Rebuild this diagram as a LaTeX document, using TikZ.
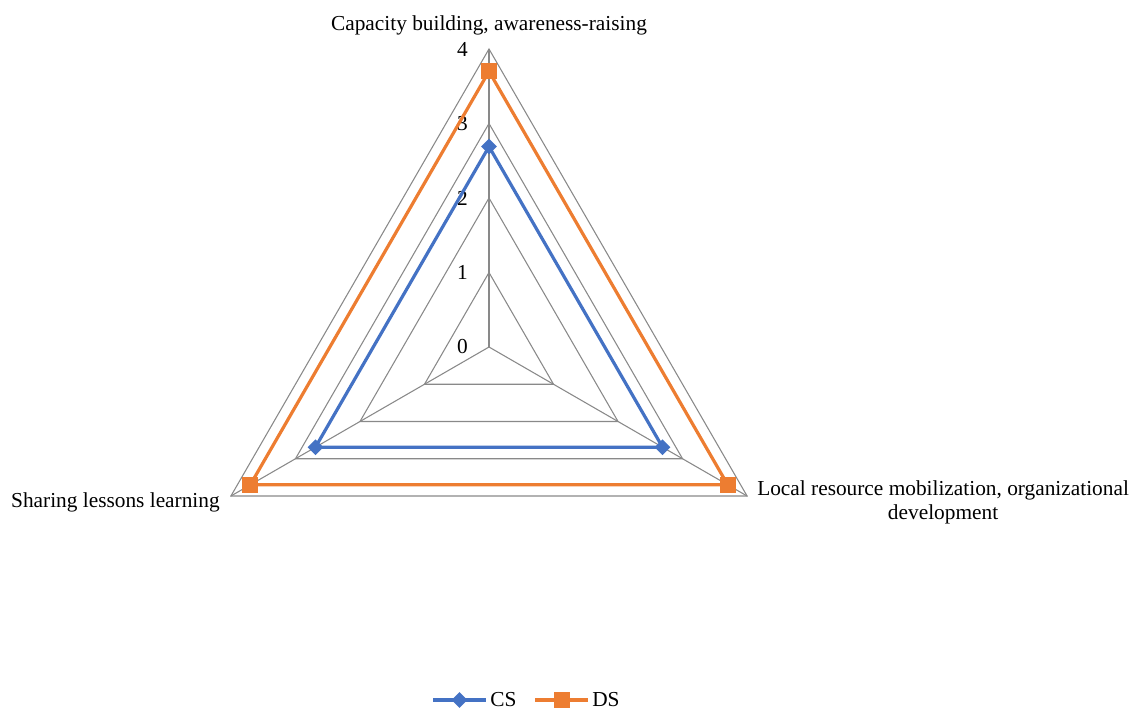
\documentclass[tikz,border=0pt]{standalone}
\usepackage{fontspec}
\setmainfont{Liberation Serif}
\usetikzlibrary{calc,shapes.geometric}
\definecolor{csblue}{HTML}{4472C4}
\definecolor{dsorange}{HTML}{ED7D31}
\definecolor{gridgrey}{HTML}{898989}
\begin{document}
\begin{tikzpicture}[x=0.75pt,y=-0.75pt,
  gridline/.style={draw=gridgrey,line width=0.8pt},
  cs/.style={draw=csblue,line width=2.4pt,line join=round},
  ds/.style={draw=dsorange,line width=2.4pt,line join=round},
  csmark/.style={fill=csblue,draw=none,shape=diamond,minimum size=12pt,inner sep=0pt},
  dsmark/.style={fill=dsorange,draw=none,shape=rectangle,minimum size=12pt,inner sep=0pt},
  lbl/.style={font=\fontsize{16}{18}\selectfont,inner sep=0pt},
  ticklbl/.style={font=\fontsize{16}{18}\selectfont,inner sep=0pt,anchor=east}]
\useasboundingbox (0,0) rectangle (1138,711);
% chart centre and scale (px per unit); y grows downward, so the top axis is at -90
\def\cx{489}\def\cy{347}\def\u{74.5}
\coordinate (O) at (\cx,\cy);
% grid triangles
\foreach \r in {1,2,3,4}{
  \draw[gridline] ($(O)+(-90:\r*\u)$) -- ($(O)+(150:\r*\u)$) -- ($(O)+(30:\r*\u)$) -- cycle;
}
% spokes
\coordinate (A) at ($(O)+(-90:4*\u)$);
\coordinate (B) at ($(O)+(30:4*\u)$);
\coordinate (C) at ($(O)+(150:4*\u)$);
\draw[gridline] (O) -- (A);
\draw[gridline] (O) -- (B);
\draw[gridline] (O) -- (C);
% tick labels
\foreach \r in {0,1,2,3,4}{
  \node[ticklbl] at ($(O)+(-21,-\r*\u)$) {\r};
}
% series CS
\coordinate (cs1) at ($(O)+(-90:2.69*\u)$);
\coordinate (cs2) at ($(O)+(30:2.69*\u)$);
\coordinate (cs3) at ($(O)+(150:2.69*\u)$);
\draw[cs] (cs1) -- (cs2) -- (cs3) -- cycle;
\foreach \p in {cs1,cs2,cs3}{\node[csmark] at (\p) {};}
% series DS
\coordinate (ds1) at ($(O)+(-90:3.7*\u)$);
\coordinate (ds2) at ($(O)+(30:3.7*\u)$);
\coordinate (ds3) at ($(O)+(150:3.7*\u)$);
\draw[ds] (ds1) -- (ds2) -- (ds3) -- cycle;
\foreach \p in {ds1,ds2,ds3}{\node[dsmark] at (\p) {};}
% axis labels
\node[lbl,anchor=center] (la) at (489,25) {Capacity building, awareness-raising};
\node[lbl,anchor=west,align=center] (lb) at (757,502) {Local resource mobilization, organizational\\development};
\node[lbl,anchor=east] (lc) at (220,502) {Sharing lessons learning};
% legend
\coordinate (l1a) at (433,700); \coordinate (l1b) at (486,700);
\draw[cs] (l1a) -- (l1b);
\node[csmark] (lm1) at (459.5,700) {};
\node[lbl,anchor=west] (lt1) at (490,700) {CS};
\coordinate (l2a) at (535,700); \coordinate (l2b) at (588,700);
\draw[ds] (l2a) -- (l2b);
\node[dsmark] (lm2) at (561.5,700) {};
\node[lbl,anchor=west] (lt2) at (592,700) {DS};
\end{tikzpicture}
\end{document}
